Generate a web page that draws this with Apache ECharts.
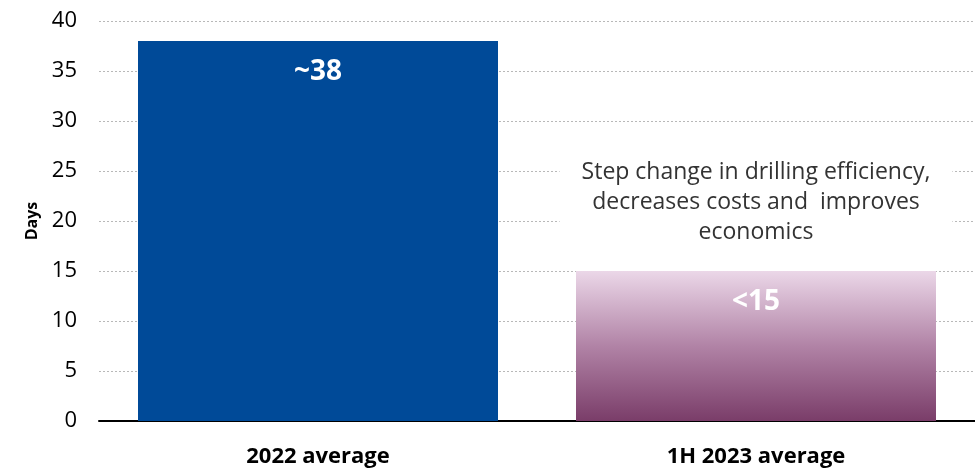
<!DOCTYPE html>
<html>
<head>
<meta charset="utf-8">
<script src="https://cdn.jsdelivr.net/npm/echarts@6/dist/echarts.min.js"></script>
<style>html,body{margin:0;padding:0;background:#fff}#c{width:975px;height:468px}</style>
</head>
<body>
<div id="c"></div>
<script>
var categories = ['2022 average', '1H 2023 average'];
var values = [38, 15];
var valueLabels = ['~38', '<15'];
var yTicks = [0, 5, 10, 15, 20, 25, 30, 35, 40];
var annotation = 'Step change in drilling efficiency,\ndecreases costs and  improves\neconomics';

var FONT = '"Open Sans", Lato, sans-serif';
var chart = echarts.init(document.getElementById('c'));
chart.setOption({
  animation: false,
  grid: {left: 99, right: 0, top: 21, bottom: 46},
  xAxis: {
    type: 'category',
    data: categories,
    axisLine: {lineStyle: {color: '#000', width: 2}},
    axisTick: {show: false},
    axisLabel: {fontFamily: FONT, fontSize: 22, fontWeight: 'bold', color: '#000', margin: 25}
  },
  yAxis: {
    type: 'value',
    min: yTicks[0], max: yTicks[yTicks.length - 1], interval: 5,
    name: 'Days', nameLocation: 'middle', nameGap: 59, nameRotate: 90,
    nameTextStyle: {fontFamily: FONT, fontSize: 16, fontWeight: 'bold', color: '#000'},
    axisLine: {show: false},
    axisTick: {show: false},
    axisLabel: {fontFamily: FONT, fontSize: 22, color: '#000', margin: 22},
    splitLine: {lineStyle: {type: [2, 2], color: '#b8b8b8', width: 1}}
  },
  series: [{
    type: 'bar',
    barWidth: 360,
    data: values.map(function (v, i) {
      return {
        value: v,
        itemStyle: i === 0 ? {color: '#004a98'} : {
          color: new echarts.graphic.LinearGradient(0, 0, 0, 1, [
            {offset: 0, color: '#ebd7e8'},
            {offset: 0.5, color: '#b183a6'},
            {offset: 1, color: '#7a3d69'}
          ])
        }
      };
    }),
    label: {
      show: true,
      position: 'insideTop',
      distance: 17,
      formatter: function (p) { return valueLabels[p.dataIndex]; },
      fontFamily: FONT, fontSize: 28, fontWeight: 'bold', color: '#fff'
    }
  }],
  graphic: [{
    type: 'text',
    position: [756, 202],
    z: 10,
    style: {
      text: annotation,
      x: 0, y: 0,
      align: 'center', verticalAlign: 'middle',
      fontFamily: FONT, fontSize: 23, lineHeight: 30, fill: '#333',
      backgroundColor: '#fff', padding: [8, 22]
    }
  }]
});
</script>
</body>
</html>
